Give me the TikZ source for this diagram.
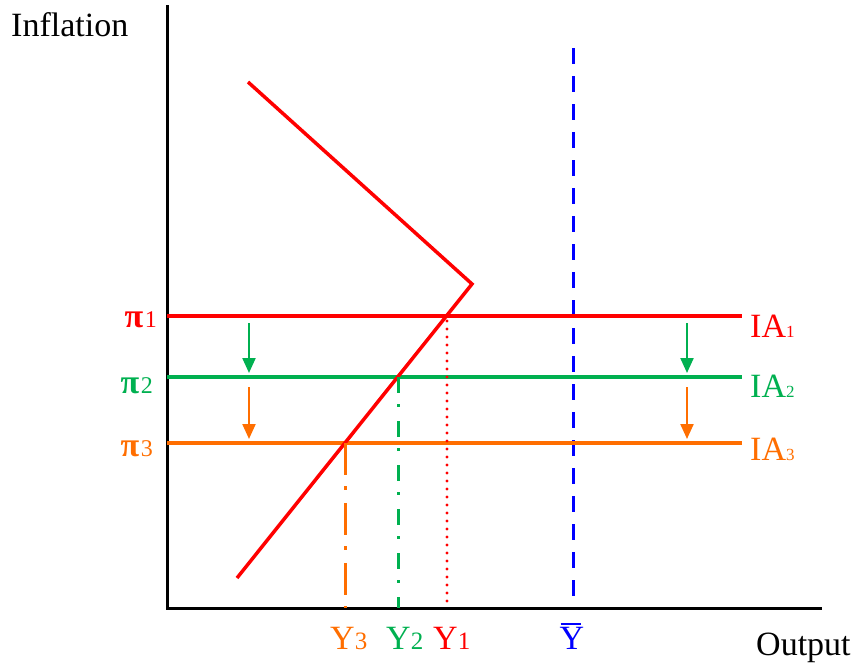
\documentclass[tikz,border=0pt]{standalone}
\usepackage{fontspec}
\setmainfont{Liberation Serif}
\usetikzlibrary{arrows.meta}
\definecolor{cred}{RGB}{255,0,0}
\definecolor{cgreen}{RGB}{0,176,80}
\definecolor{corange}{RGB}{255,110,0}
\definecolor{cblue}{RGB}{0,0,255}
\newcommand{\bigf}{\fontsize{34}{40}\selectfont}
\newcommand{\pisub}{\fontsize{24}{28}\selectfont}
\newcommand{\iasub}{\fontsize{17}{20}\selectfont}
\newcommand{\ysub}{\fontsize{25}{30}\selectfont}
\begin{document}
\begin{tikzpicture}[x=1pt,y=-1pt,
  axis/.style={line width=3pt,black},
  curve/.style={line width=3.5pt},
  hline/.style={line width=3.2pt},
  shiftarrow/.style={line width=2.2pt,-{Triangle[length=15pt,width=13pt]}},
  lbl/.style={inner sep=0pt,font=\bigf},
  dropline/.style={line width=3pt}]
\useasboundingbox (0,0) rectangle (857,664);
% axes
\coordinate (ytop) at (167,5);
\coordinate (orig) at (167,608);
\coordinate (xend) at (822,608);
\draw[axis] (ytop) -- (orig) -- (xend);
\node[lbl,anchor=base west] (inflation) at (11,36) {Inflation};
\node[lbl,anchor=base west] (output) at (756,655) {Output};
% long-run output
\coordinate (ybtop) at (573,48);
\coordinate (ybbot) at (573,600);
\draw[cblue,dropline,dash pattern=on 16pt off 12pt] (ybtop) -- (ybbot);
% IA lines
\coordinate (l1) at (167,316); \coordinate (r1) at (742,316);
\coordinate (l2) at (167,377); \coordinate (r2) at (742,377);
\coordinate (l3) at (167,443); \coordinate (r3) at (742,443);
\draw[hline,cred] (l1) -- (r1);
\draw[hline,cgreen] (l2) -- (r2);
\draw[hline,corange] (l3) -- (r3);
% AD curve
\coordinate (adtop) at (248,82);
\coordinate (kink) at (472,284);
\coordinate (adbot) at (237,578);
\draw[curve,cred,line join=miter] (adtop) -- (kink) -- (adbot);
% intersections
\coordinate (e1) at (447,316); \coordinate (f1) at (447,608);
\coordinate (e2) at (398,377); \coordinate (f2) at (398,608);
\coordinate (e3) at (345,443); \coordinate (f3) at (345,608);
\draw[cred,line width=3.3pt,line cap=round,dash pattern=on 0pt off 8pt] (e1) ++(0,5) -- (f1);
\draw[cgreen,dropline,dash pattern=on 16pt off 11pt on 3pt off 14pt] (e2) -- (f2);
\draw[corange,dropline,dash pattern=on 32pt off 11pt on 4pt off 13pt] (e3) -- (f3);
% arrows
\coordinate (a1s) at (249,323); \coordinate (a1e) at (249,373);
\coordinate (a2s) at (249,387); \coordinate (a2e) at (249,439);
\coordinate (b1s) at (687,323); \coordinate (b1e) at (687,373);
\coordinate (b2s) at (687,387); \coordinate (b2e) at (687,439);
\draw[shiftarrow,cgreen] (a1s) -- (a1e);
\draw[shiftarrow,corange] (a2s) -- (a2e);
\draw[shiftarrow,cgreen] (b1s) -- (b1e);
\draw[shiftarrow,corange] (b2s) -- (b2e);
% pi labels
\node[lbl,anchor=base east,text=cred] (pi1) at (157,327) {\textbf{π}\kern1.5pt{\pisub 1}};
\node[lbl,anchor=base east,text=cgreen] (pi2) at (153,393) {\textbf{π}\kern1.5pt{\pisub 2}};
\node[lbl,anchor=base east,text=corange] (pi3) at (153,456) {\textbf{π}\kern1.5pt{\pisub 3}};
% IA labels
\node[lbl,anchor=base west,text=cred] (ia1) at (750,337) {IA{\iasub 1}};
\node[lbl,anchor=base west,text=cgreen] (ia2) at (750,397) {IA{\iasub 2}};
\node[lbl,anchor=base west,text=corange] (ia3) at (750,460) {IA{\iasub 3}};
% Y labels
\node[lbl,anchor=base west,text=corange] (y3) at (330,649) {Y{\ysub 3}};
\node[lbl,anchor=base west,text=cgreen] (y2) at (386,649) {Y{\ysub 2}};
\node[lbl,anchor=base west,text=cred] (y1) at (433,649) {Y{\ysub 1}};
\node[lbl,anchor=base,text=cblue] (ybar) at (572,649) {Y};
\draw[cblue,line width=2pt] (ybar.north west) ++(1,-3) -- ++(20,0);
\end{tikzpicture}
\end{document}
